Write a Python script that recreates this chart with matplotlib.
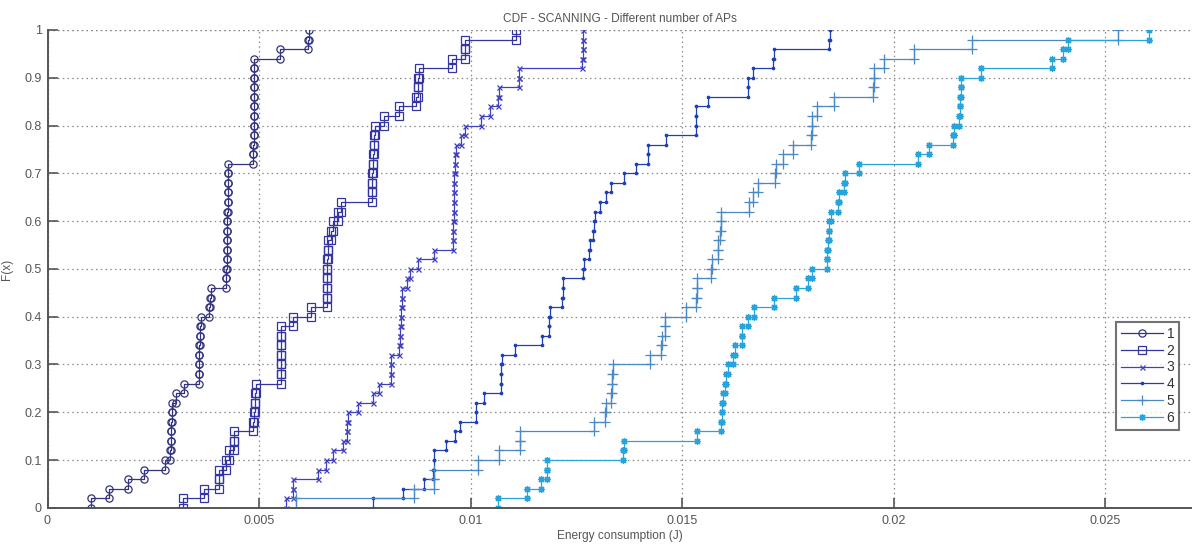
import numpy as np
import matplotlib
matplotlib.use("Agg")
import matplotlib.pyplot as plt

# Energy consumption samples (J) while scanning, one list per number of APs
aps_1 = [0.00103, 0.00146, 0.00191, 0.00227, 0.00278,
         0.00290, 0.00291, 0.00292, 0.00293, 0.00294, 0.00295,
         0.00304, 0.00322,
         0.00358, 0.00358, 0.00359, 0.00359, 0.00360, 0.00360,
         0.00362, 0.00381, 0.00384, 0.00387,
         0.00423, 0.00423, 0.00424, 0.00424, 0.00424, 0.00425, 0.00425,
         0.00425, 0.00426, 0.00426, 0.00426, 0.00427, 0.00427,
         0.00486, 0.00486, 0.00487, 0.00487, 0.00487, 0.00487, 0.00488,
         0.00488, 0.00488, 0.00489, 0.00489,
         0.00550, 0.00617, 0.00618]

aps_2 = [0.00320, 0.00371, 0.00405, 0.00406, 0.00422, 0.00430, 0.00441, 0.00442,
         0.00486, 0.00488, 0.00490, 0.00491, 0.00494,
         0.00551, 0.00551, 0.00552, 0.00552, 0.00552, 0.00553,
         0.00580, 0.00623,
         0.00660, 0.00660, 0.00661, 0.00661, 0.00661, 0.00662, 0.00662,
         0.00670, 0.00674, 0.00686, 0.00694,
         0.00766, 0.00767, 0.00768, 0.00769, 0.00770, 0.00771, 0.00772, 0.00774,
         0.00796, 0.00832, 0.00871,
         0.00876, 0.00877, 0.00878,
         0.00956, 0.00986, 0.00987, 0.01108]

aps_3 = [0.00564, 0.00580, 0.00581, 0.00639, 0.00658, 0.00674, 0.00698, 0.00708,
         0.00709, 0.00710, 0.00733, 0.00769, 0.00784,
         0.00811, 0.00812, 0.00813,
         0.00831, 0.00834, 0.00834, 0.00836, 0.00836, 0.00838, 0.00839,
         0.00851, 0.00858,
         0.00875, 0.00914,
         0.00958, 0.00959, 0.00959, 0.00960, 0.00960, 0.00961, 0.00962,
         0.00962, 0.00963, 0.00964, 0.00966,
         0.00978, 0.00987,
         0.01025, 0.01047, 0.01066, 0.01067, 0.01114, 0.01115,
         0.01264, 0.01265, 0.01265, 0.01266]

aps_4 = [0.00769, 0.00840, 0.00889, 0.00912, 0.00913, 0.00914, 0.00942, 0.00964,
         0.00974, 0.01012, 0.01014, 0.01033,
         0.01071, 0.01072, 0.01073, 0.01074,
         0.01105, 0.01169, 0.01185, 0.01186, 0.01187,
         0.01217, 0.01218, 0.01219,
         0.01265, 0.01268, 0.01281, 0.01283, 0.01290, 0.01292, 0.01294,
         0.01305, 0.01320, 0.01332, 0.01362, 0.01391, 0.01419, 0.01420,
         0.01462, 0.01532, 0.01533, 0.01534, 0.01561,
         0.01656, 0.01657, 0.01669, 0.01716, 0.01718, 0.01848, 0.01849]

aps_5 = [0.00587, 0.00867, 0.00913, 0.00914, 0.01017, 0.01068, 0.01117, 0.01118,
         0.01293, 0.01319, 0.01320,
         0.01333, 0.01334, 0.01335, 0.01336,
         0.01425, 0.01451, 0.01452, 0.01459, 0.01460, 0.01509,
         0.01534, 0.01535, 0.01536, 0.01569, 0.01570, 0.01585, 0.01586,
         0.01591, 0.01592, 0.01593,
         0.01659, 0.01667, 0.01679, 0.01721, 0.01722, 0.01738, 0.01762,
         0.01806, 0.01807, 0.01808, 0.01819, 0.01860,
         0.01952, 0.01953, 0.01954, 0.01978, 0.02049, 0.02185, 0.02531]

aps_6 = [0.01066, 0.01134, 0.01167, 0.01181, 0.01182, 0.01361, 0.01362, 0.01535,
         0.01593, 0.01594, 0.01595, 0.01598, 0.01601, 0.01604, 0.01608,
         0.01620, 0.01625, 0.01641, 0.01643, 0.01657, 0.01670,
         0.01718, 0.01770, 0.01797, 0.01807,
         0.01842, 0.01843, 0.01845, 0.01847, 0.01848,
         0.01852, 0.01868, 0.01872, 0.01882, 0.01885, 0.01919,
         0.02057, 0.02084, 0.02140, 0.02144,
         0.02156, 0.02157, 0.02158, 0.02159, 0.02160,
         0.02207, 0.02374, 0.02400, 0.02412, 0.02605]

series_labels = ["1", "2", "3", "4", "5", "6"]
x_ticks = [0, 0.005, 0.01, 0.015, 0.02, 0.025]
x_tick_labels = ["0", "0.005", "0.01", "0.015", "0.02", "0.025"]
y_ticks = [0, 0.1, 0.2, 0.3, 0.4, 0.5, 0.6, 0.7, 0.8, 0.9, 1.0]
y_tick_labels = ["0", "0.1", "0.2", "0.3", "0.4", "0.5", "0.6", "0.7", "0.8", "0.9", "1"]

colors = ["#34347e", "#3535a2", "#4040c0", "#1f3fb5", "#4a88c6", "#28a4dc"]
markers = ["o", "s", "x", ".", "+", (8, 2, 0)]
msizes = [5.2, 5.6, 3.6, 3.5, 6.5, 5.0]
mfc = ["none", "none", None, None, None, None]

plt.rcParams["font.family"] = ["Liberation Sans", "DejaVu Sans"]
TXT = "#555555"

fig = plt.figure(figsize=(11.92, 5.44), dpi=100)
ax = fig.add_axes([47.5 / 1192, 1 - 507.8 / 544, 1 - 47.5 / 1192, 477.8 / 544])


def ecdf_vertices(samples):
    s = np.sort(np.asarray(samples, dtype=float))
    n = len(s)
    f = np.arange(1, n + 1) / n
    xs = np.repeat(s, 2)
    ys = np.empty(2 * n)
    ys[0::2] = np.concatenate(([0.0], f[:-1]))
    ys[1::2] = f
    return xs, ys


all_series = [aps_1, aps_2, aps_3, aps_4, aps_5, aps_6]
for data, lab, c, m, ms, fc in zip(all_series, series_labels, colors, markers, msizes, mfc):
    xs, ys = ecdf_vertices(data)
    kw = dict(color=c, lw=0.9, marker=m, ms=ms, mew=0.9, label=lab)
    if fc is not None:
        kw["mfc"] = fc
    ax.plot(xs, ys, **kw)

ax.set_xlim(0, (1192 - 47.5) / 42300)
ax.set_ylim(0, 1)
ax.set_xticks(x_ticks)
ax.set_xticklabels(x_tick_labels)
ax.set_yticks(y_ticks)
ax.set_yticklabels(y_tick_labels)

ax.grid(True, linestyle=(0, (1.2, 2.6)), color="#8a8a8a", lw=0.9)
ax.axhline(1.0, linestyle=(0, (1.2, 2.6)), color="#8a8a8a", lw=0.9, zorder=0)
for side in ["top", "right"]:
    ax.spines[side].set_visible(False)
for side in ["left", "bottom"]:
    ax.spines[side].set_color("#555555")
    ax.spines[side].set_linewidth(1.4)
ax.tick_params(direction="in", length=7, width=1.2, colors="#555555",
               labelsize=9, labelcolor=TXT, pad=4)
ax.tick_params(axis="x", pad=5)

ax.set_title("CDF - SCANNING - Different number of APs", fontsize=8.6, color=TXT, pad=6)
ax.set_xlabel("Energy consumption (J)", fontsize=8.6, color=TXT, labelpad=2)
ax.set_ylabel("F(x)", fontsize=8.6, color=TXT, labelpad=8)

leg = ax.legend(loc="upper left", bbox_to_anchor=(1116 / 1192, 1 - 322 / 544),
                bbox_transform=fig.transFigure, frameon=True, fancybox=False,
                fontsize=10, handlelength=3.0, handletextpad=0.3,
                borderpad=0.35, labelspacing=0.2, borderaxespad=0)
leg.get_frame().set_edgecolor("#505050")
leg.get_frame().set_linewidth(1.5)
for t in leg.get_texts():
    t.set_color("#333333")

fig.savefig("out.png", dpi=100)
